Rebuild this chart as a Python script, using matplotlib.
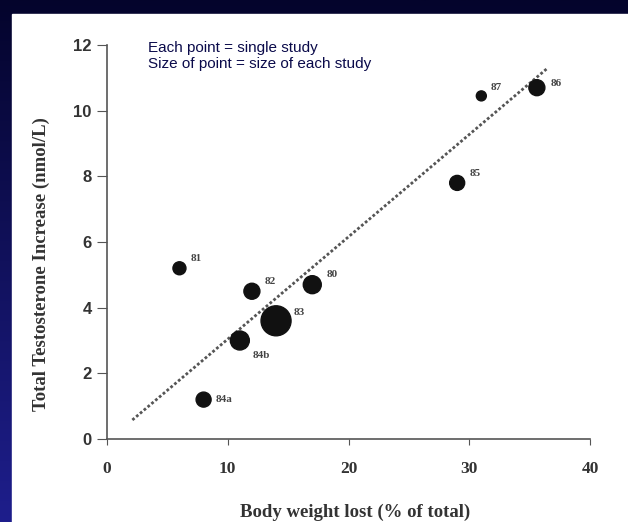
import numpy as np
import matplotlib
matplotlib.use('Agg')
import matplotlib.pyplot as plt
from matplotlib.colors import LinearSegmentedColormap
from matplotlib.patches import Rectangle

# 数据：每个研究的体重下降与睾酮升高
study_ids = ['81', '82', '80', '83', '84b', '84a', '85', '87', '86']
weight_lost = [6, 12, 17, 14, 11, 8, 29, 31, 35.6]
testo_increase = [5.2, 4.5, 4.7, 3.6, 3.0, 1.2, 7.8, 10.45, 10.7]
study_size = [13, 16, 18, 30, 19, 15, 15, 10, 16]  # 点的直径(像素)

# 回归线两端
fit_x = [2.1, 36.5]
fit_y = [0.58, 11.3]

x_ticks = [0, 10, 20, 30, 40]
y_ticks = [0, 2, 4, 6, 8, 10, 12]

# 标签相对点中心的偏移(points)
label_offsets = [(8, 7), (9, 7), (10, 7), (13, 6), (9, -11), (9, 0), (9, 7), (7, 6), (10, 3)]

fig = plt.figure(figsize=(6.28, 5.22), dpi=100)

# 背景：深蓝渐变 + 白色面板
bg = fig.add_axes([0, 0, 1, 1])
cmap = LinearSegmentedColormap.from_list('navy', ['#1e1e8c', '#04042c'])
grad = np.linspace(0, 1, 256).reshape(-1, 1)
bg.imshow(grad, aspect='auto', cmap=cmap, extent=[0, 1, 0, 1], origin='lower')
bg.add_patch(Rectangle((12 / 628, 0), 1, 1 - 14 / 522, color='white', zorder=2))
bg.set_xlim(0, 1)
bg.set_ylim(0, 1)
bg.axis('off')

ax = fig.add_axes([107 / 628, 1 - 439 / 522, 483 / 628, (439 - 45) / 522])
ax.set_facecolor('none')

sizes = [(d * 0.72) ** 2 for d in study_size]
ax.scatter(weight_lost, testo_increase, s=sizes, color='#111111', zorder=3, clip_on=False)
ax.plot(fit_x, fit_y, color='#555555', lw=2, linestyle=(0, (1.0, 0.8)), zorder=2)

for i, lab in enumerate(study_ids):
    ax.annotate(lab, (weight_lost[i], testo_increase[i]), xytext=label_offsets[i],
                textcoords='offset points', fontsize=8, family='Liberation Serif',
                fontweight='bold', color='#444444', ha='left', va='center')

ax.set_xlim(0, 40)
ax.set_ylim(0, 12)
ax.set_xticks(x_ticks)
ax.set_yticks(y_ticks)
ax.spines['top'].set_visible(False)
ax.spines['right'].set_visible(False)
for s in ['left', 'bottom']:
    ax.spines[s].set_color('#555555')
    ax.spines[s].set_linewidth(1.2)
ax.tick_params(axis='x', direction='out', length=4, color='#555555', pad=12)
ax.tick_params(axis='y', direction='out', length=7, color='#555555', pad=4)
for t in ax.get_xticklabels():
    t.set_fontfamily('Liberation Serif')
    t.set_fontweight('bold')
    t.set_fontsize(12.5)
    t.set_color('#333333')
for t in ax.get_yticklabels():
    t.set_fontfamily('Liberation Sans')
    t.set_fontweight('bold')
    t.set_fontsize(12)
    t.set_color('#333333')

ax.set_xlabel('Body weight lost (% of total)', family='Liberation Serif', fontweight='bold',
              fontsize=13.5, color='#333333')
ax.set_ylabel('Total Testosterone Increase (nmol/L)', family='Liberation Serif',
              fontweight='bold', fontsize=13.5, color='#333333')
ax.xaxis.set_label_coords(0.513, -0.165)
ax.yaxis.set_label_coords(-0.118, 0.444)

fig.text(148 / 628, 1 - 56 / 522, 'Each point = single study\nSize of point = size of each study',
         family='Liberation Sans', fontsize=11, color='#0a0a4a', va='center', ha='left',
         linespacing=1.2)

fig.savefig('out.png', dpi=100)
